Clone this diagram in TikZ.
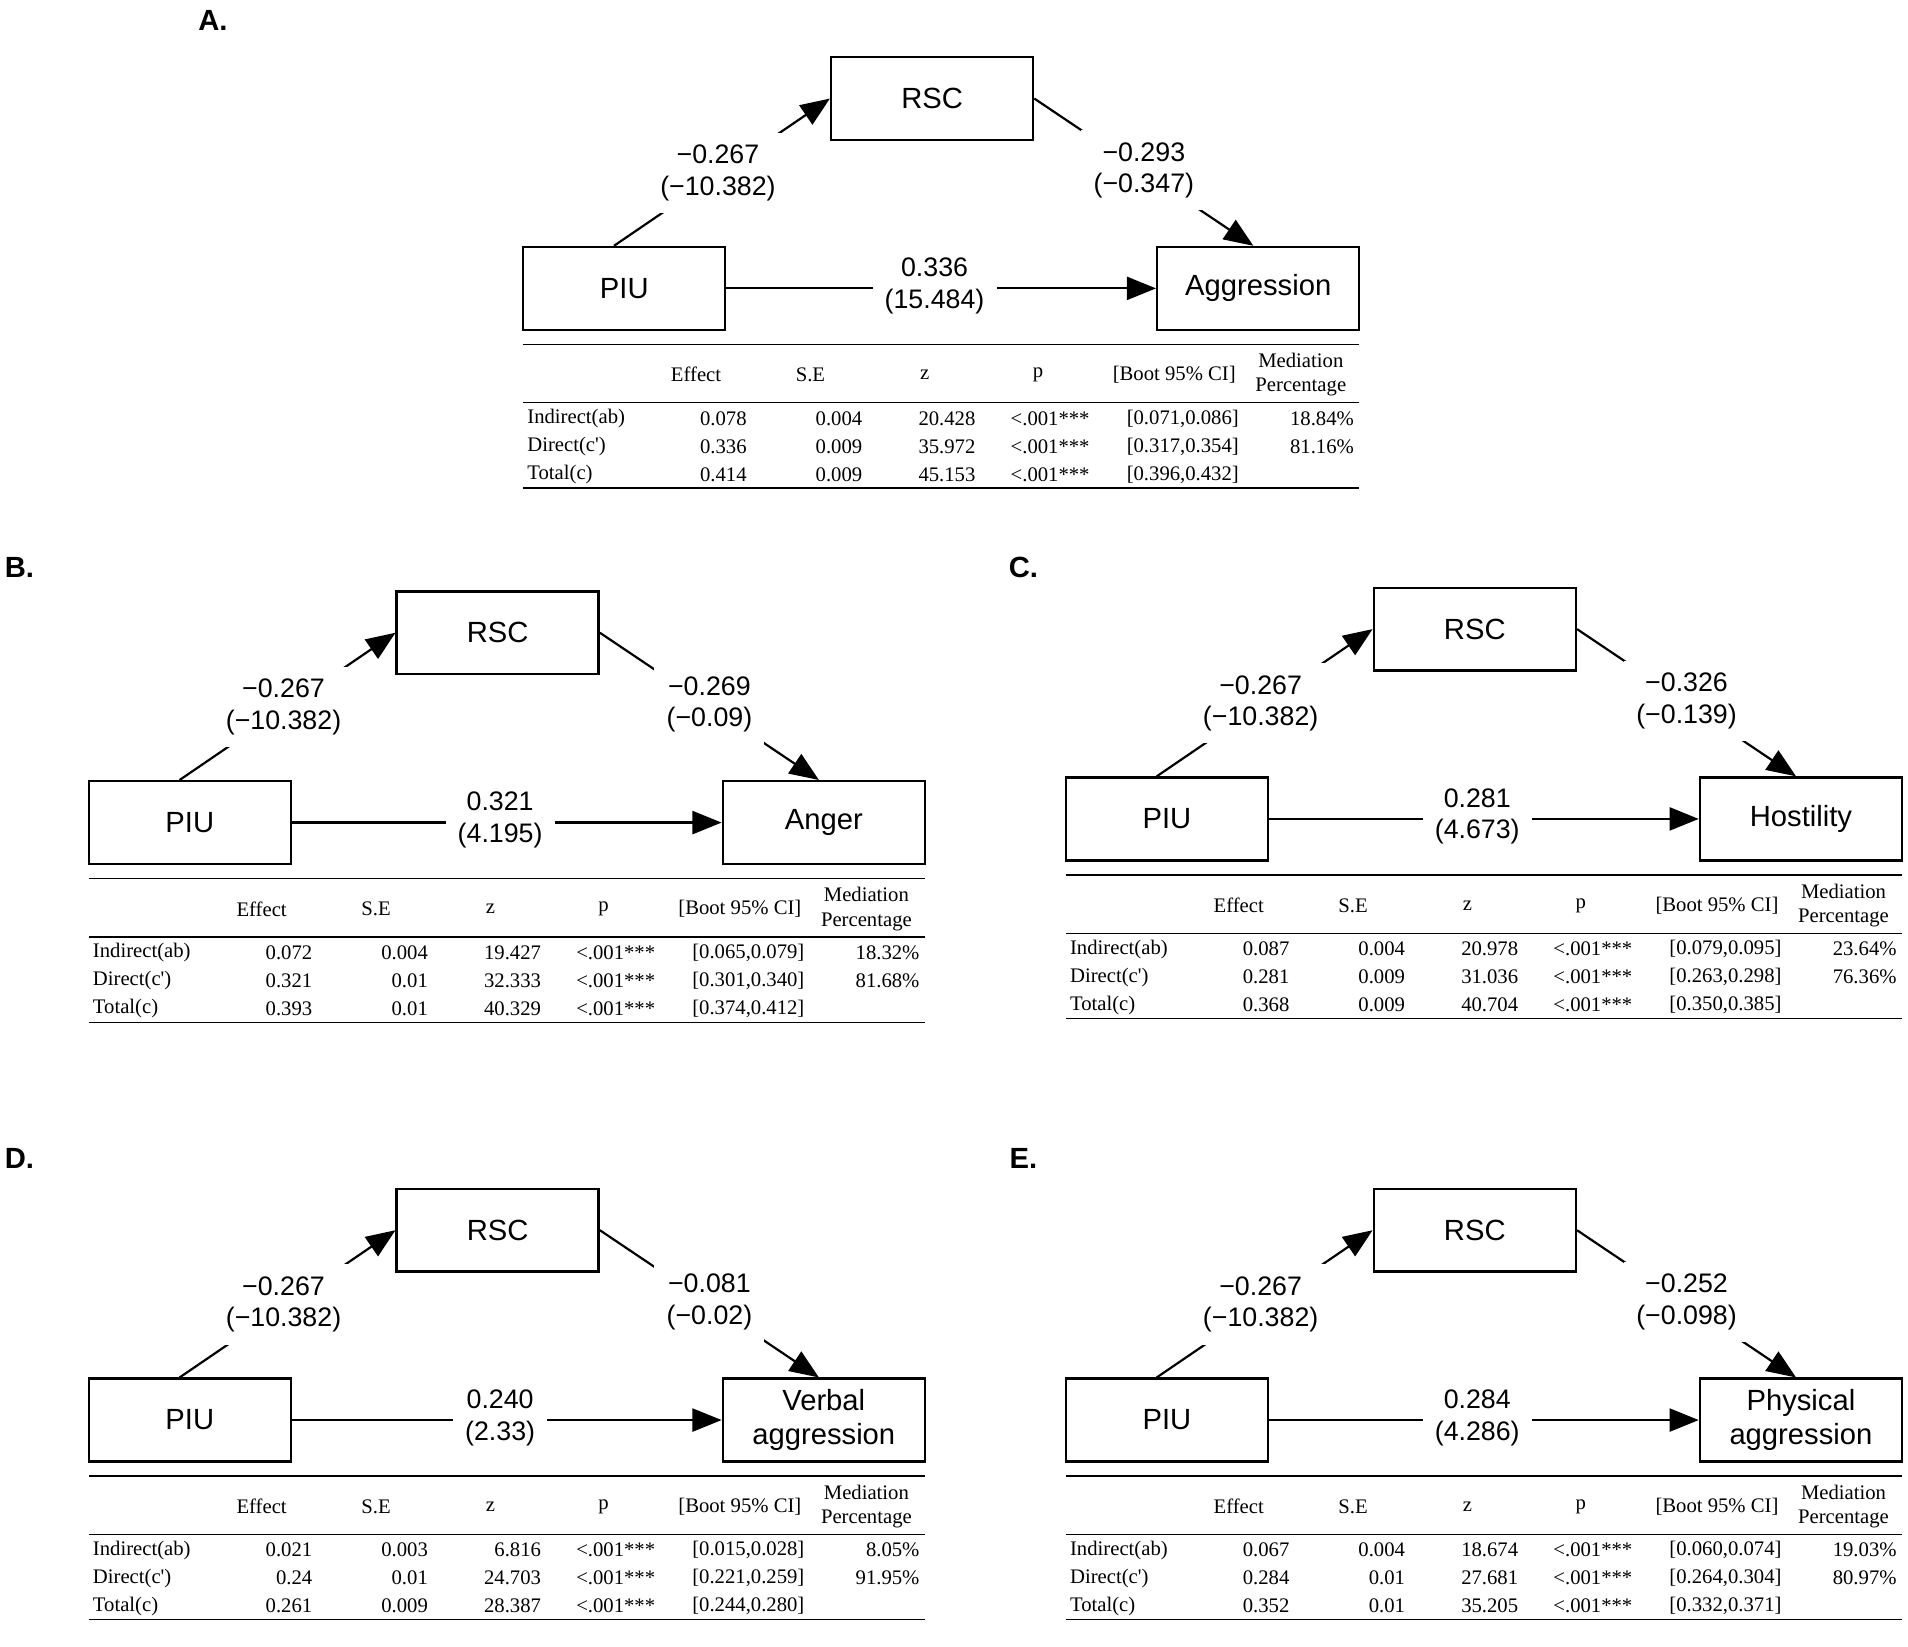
\documentclass[tikz,border=0pt]{standalone}
\usepackage{fontspec}
\setmainfont{Liberation Serif}
\setsansfont{Liberation Sans}
\usetikzlibrary{arrows.meta,calc}
\tikzset{
 box/.style={draw,line width=1pt,minimum width=83pt,minimum height=34pt,inner sep=1pt,font=\sffamily\fontsize{12}{14}\selectfont,align=center},
 arr/.style={line width=0.9pt,-{Triangle[length=12pt,width=9.5pt]}},
 lab/.style={fill=white,inner sep=5pt,align=center,font=\sffamily\fontsize{11}{13}\selectfont},
 tt/.style={inner sep=0pt,font=\fontsize{8.5}{10}\selectfont,align=center},
 let/.style={font=\sffamily\bfseries\fontsize{12}{14}\selectfont},
 rule/.style={line width=0.5pt}
}
\newcommand\diag[5]{%
 \node[box] (#1p) at (513,237) {PIU};
 \node[box] (#1r) at (766,81) {RSC};
 \node[box] (#1o) at (1034,237) {#2};
 \draw[arr] ($(#1p.north west)!0.45!(#1p.north east)$) -- (#1r.west);
 \draw[arr] (#1r.east) -- ($(#1o.north)+(-4,0)$);
 \draw[arr] (#1p.east) -- (#1o.west);
 \node[lab] (#1la) at (590,142) {#3};
 \node[lab] (#1lb) at (940,140) {#4};
 \node[lab] (#1lc) at (768,235) {#5};
 \draw[rule] (430,283) -- (1117,283);
 \draw[rule] (430,331) -- (1117,331);
 \draw[rule] (430,401) -- (1117,401);
 \node[tt] at (572,308) {Effect};
 \node[tt] at (666,308) {S.E};
 \node[tt] at (760,308) {z};
 \node[tt] at (853,308) {p};
 \node[tt] at (965,308) {[Boot 95\% CI]};
 \node[tt] at (1069,308) {Mediation\\Percentage};
}
\newcommand\trow[8]{%
 \node[tt,anchor=west] at (433,#1) {#2};
 \node[tt,anchor=east] at (614,#1) {#3};
 \node[tt,anchor=east] at (709,#1) {#4};
 \node[tt,anchor=east] at (802,#1) {#5};
 \node[tt] at (863,#1) {#6};
 \node[tt] at (972,#1) {#7};
 \node[tt,anchor=east] at (1113,#1) {#8};
}
\newcommand\dq{Direct(c\textquotesingle)}
\begin{document}
\begin{tikzpicture}[x=0.5pt,y=-0.5pt]
\useasboundingbox (0,0) rectangle (1568,1353);
\node[let] (LA) at (175,17) {A.};
\node[let] (LB) at (16,466) {B.};
\node[let] (LC) at (841,466) {C.};
\node[let] (LD) at (16,952) {D.};
\node[let] (LE) at (841,952) {E.};
\begin{scope}
 \diag{A}{Aggression}{−0.267\\(−10.382)}{−0.293\\(−0.347)}{0.336\\(15.484)}
 \trow{344}{Indirect(ab)}{0.078}{0.004}{20.428}{<.001***}{[0.071,0.086]}{18.84\%}
 \trow{367}{\dq}{0.336}{0.009}{35.972}{<.001***}{[0.317,0.354]}{81.16\%}
 \trow{390}{Total(c)}{0.414}{0.009}{45.153}{<.001***}{[0.396,0.432]}{}
\end{scope}
\begin{scope}[shift={(-357,439)}]
 \diag{B}{Anger}{−0.267\\(−10.382)}{−0.269\\(−0.09)}{0.321\\(4.195)}
 \trow{344}{Indirect(ab)}{0.072}{0.004}{19.427}{<.001***}{[0.065,0.079]}{18.32\%}
 \trow{367}{\dq}{0.321}{0.01}{32.333}{<.001***}{[0.301,0.340]}{81.68\%}
 \trow{390}{Total(c)}{0.393}{0.01}{40.329}{<.001***}{[0.374,0.412]}{}
\end{scope}
\begin{scope}[shift={(446,436)}]
 \diag{C}{Hostility}{−0.267\\(−10.382)}{−0.326\\(−0.139)}{0.281\\(4.673)}
 \trow{344}{Indirect(ab)}{0.087}{0.004}{20.978}{<.001***}{[0.079,0.095]}{23.64\%}
 \trow{367}{\dq}{0.281}{0.009}{31.036}{<.001***}{[0.263,0.298]}{76.36\%}
 \trow{390}{Total(c)}{0.368}{0.009}{40.704}{<.001***}{[0.350,0.385]}{}
\end{scope}
\begin{scope}[shift={(-357,930)}]
 \diag{D}{Verbal\\aggression}{−0.267\\(−10.382)}{−0.081\\(−0.02)}{0.240\\(2.33)}
 \trow{344}{Indirect(ab)}{0.021}{0.003}{6.816}{<.001***}{[0.015,0.028]}{8.05\%}
 \trow{367}{\dq}{0.24}{0.01}{24.703}{<.001***}{[0.221,0.259]}{91.95\%}
 \trow{390}{Total(c)}{0.261}{0.009}{28.387}{<.001***}{[0.244,0.280]}{}
\end{scope}
\begin{scope}[shift={(446,930)}]
 \diag{E}{Physical\\aggression}{−0.267\\(−10.382)}{−0.252\\(−0.098)}{0.284\\(4.286)}
 \trow{344}{Indirect(ab)}{0.067}{0.004}{18.674}{<.001***}{[0.060,0.074]}{19.03\%}
 \trow{367}{\dq}{0.284}{0.01}{27.681}{<.001***}{[0.264,0.304]}{80.97\%}
 \trow{390}{Total(c)}{0.352}{0.01}{35.205}{<.001***}{[0.332,0.371]}{}
\end{scope}
\end{tikzpicture}
\end{document}
